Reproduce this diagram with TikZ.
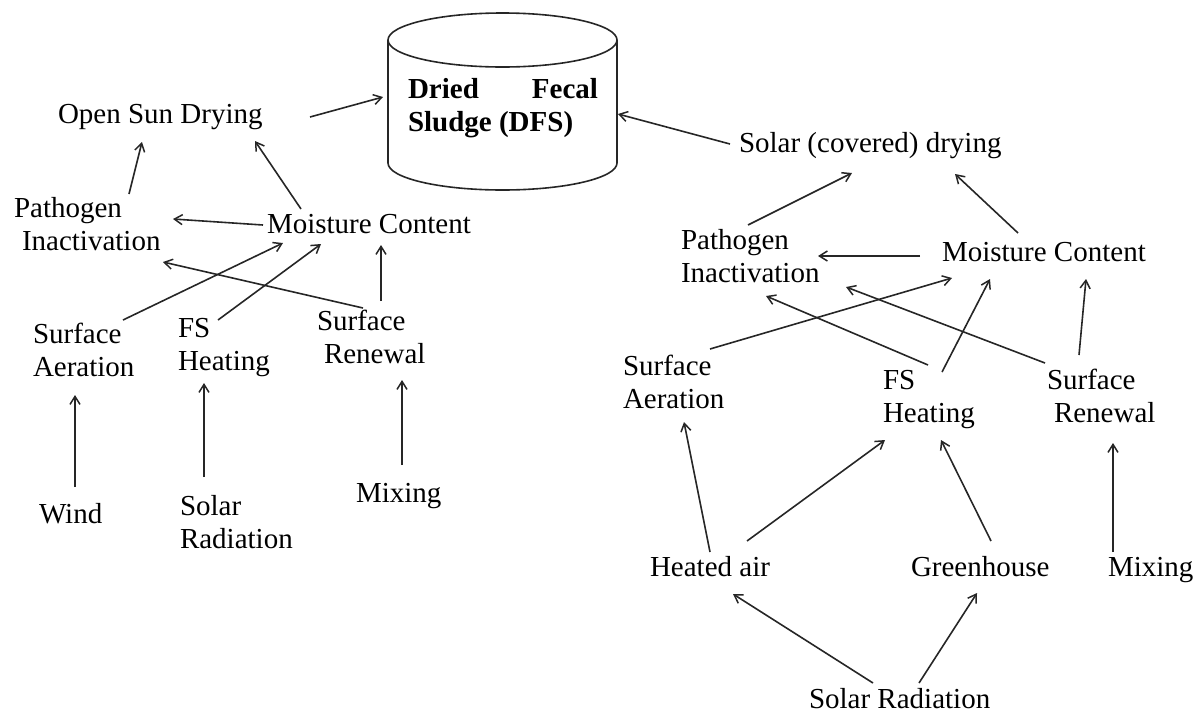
\documentclass[tikz,border=0pt]{standalone}
\usepackage{fontspec}
\setmainfont{Liberation Serif}
\usetikzlibrary{arrows.meta}
\begin{document}
\begin{tikzpicture}[x=1pt,y=-1pt,
  lbl/.style={anchor=base west, inner sep=0pt, outer sep=0pt, font=\fontsize{29pt}{33.5pt}\selectfont},
  arr/.style={draw=black!85, line width=1.6pt, -{Straight Barb[length=8pt,width=10pt,line width=1.5pt]}},
  shp/.style={draw=black!85, line width=1.6pt}]
\useasboundingbox (0,0) rectangle (1201,713);

% cylinder
\node[minimum width=229pt, minimum height=177pt, inner sep=0pt, outer sep=0pt] (dfs) at (502.5,101.5) {};
\draw[shp] (388,40) -- (388,163) arc[start angle=180,end angle=360,x radius=114.5pt,y radius=27pt] -- (617,40);
\draw[shp] (502.5,40) ellipse[x radius=114.5pt,y radius=27pt];
\node[lbl] (dfstext) at (408,98) {\parbox[t]{190pt}{\bfseries Dried\hfill Fecal\\Sludge (DFS)}};

% left side
\node[lbl] (osd) at (58,123) {Open Sun Drying};
\node[lbl] (pathL) at (14,217) {\begin{tabular}[t]{@{}l@{}}Pathogen\\\hspace*{8pt}Inactivation\end{tabular}};
\node[lbl] (mcL) at (267,233) {Moisture Content};
\node[lbl] (saL) at (33,343) {\begin{tabular}[t]{@{}l@{}}Surface\\Aeration\end{tabular}};
\node[lbl] (fsL) at (178,337) {\begin{tabular}[t]{@{}l@{}}FS\\Heating\end{tabular}};
\node[lbl] (srL) at (317,330) {\begin{tabular}[t]{@{}l@{}}Surface\\\hspace*{7pt}Renewal\end{tabular}};
\node[lbl] (wind) at (39,523) {Wind};
\node[lbl] (solL) at (180,515) {\begin{tabular}[t]{@{}l@{}}Solar\\Radiation\end{tabular}};
\node[lbl] (mixL) at (356,502) {Mixing};

% right side
\node[lbl] (scd) at (739,152) {Solar (covered) drying};
\node[lbl] (pathR) at (681,249) {\begin{tabular}[t]{@{}l@{}}Pathogen\\Inactivation\end{tabular}};
\node[lbl] (mcR) at (942,261) {Moisture Content};
\node[lbl] (saR) at (623,375) {\begin{tabular}[t]{@{}l@{}}Surface\\Aeration\end{tabular}};
\node[lbl] (fsR) at (883,389) {\begin{tabular}[t]{@{}l@{}}FS\\Heating\end{tabular}};
\node[lbl] (srR) at (1047,389) {\begin{tabular}[t]{@{}l@{}}Surface\\\hspace*{7pt}Renewal\end{tabular}};
\node[lbl] (heated) at (650,576) {Heated air};
\node[lbl] (green) at (911,576) {Greenhouse};
\node[lbl] (mixR) at (1108,576) {Mixing};
\node[lbl] (solR) at (809,708) {Solar Radiation};

% left arrows
\draw[arr] ([shift={(252,-6)}]osd.base west) -- ([shift={(-5,-4.5)}]dfs.west);
\draw[arr] ([shift={(115,-23)}]pathL.base west) -- ([shift={(84,19)}]osd.base west);
\draw[arr] ([shift={(34,-24)}]mcL.base west) -- ([shift={(197,18)}]osd.base west);
\draw[arr] ([shift={(-4,-8)}]mcL.base west) -- ([shift={(159,2)}]pathL.base west);
\draw[arr] ([shift={(90,-23)}]saL.base west) -- ([shift={(16,10)}]mcL.base west);
\draw[arr] ([shift={(40,-17)}]fsL.base west) -- ([shift={(54,11)}]mcL.base west);
\draw[arr] ([shift={(46,-22)}]srL.base west) -- ([shift={(149,45)}]pathL.base west);
\draw[arr] ([shift={(64,-29)}]srL.base west) -- ([shift={(114,12)}]mcL.base west);
\draw[arr] ([shift={(36,-36)}]wind.base west) -- ([shift={(42,52)}]saL.base west);
\draw[arr] ([shift={(24,-38)}]solL.base west) -- ([shift={(26,46)}]fsL.base west);
\draw[arr] ([shift={(46,-37)}]mixL.base west) -- ([shift={(85,50)}]srL.base west);

% right arrows
\draw[arr] ([shift={(-9,-8)}]scd.base west) -- ([shift={(1,12.5)}]dfs.east);
\draw[arr] ([shift={(67,-24)}]pathR.base west) -- ([shift={(113,21)}]scd.base west);
\draw[arr] ([shift={(76,-28)}]mcR.base west) -- ([shift={(216,22)}]scd.base west);
\draw[arr] ([shift={(-22,-5)}]mcR.base west) -- ([shift={(137,7)}]pathR.base west);
\draw[arr] ([shift={(87,-26)}]saR.base west) -- ([shift={(10,17)}]mcR.base west);
\draw[arr] ([shift={(45,-24)}]fsR.base west) -- ([shift={(85,47)}]pathR.base west);
\draw[arr] ([shift={(-2,-26)}]srR.base west) -- ([shift={(165,38)}]pathR.base west);
\draw[arr] ([shift={(59,-17)}]fsR.base west) -- ([shift={(48,18)}]mcR.base west);
\draw[arr] ([shift={(32,-34)}]srR.base west) -- ([shift={(144,18)}]mcR.base west);
\draw[arr] ([shift={(60,-24)}]heated.base west) -- ([shift={(61,47)}]saR.base west);
\draw[arr] ([shift={(97,-35)}]heated.base west) -- ([shift={(2,51)}]fsR.base west);
\draw[arr] ([shift={(80,-35)}]green.base west) -- ([shift={(58,51)}]fsR.base west);
\draw[arr] ([shift={(5,-24)}]mixR.base west) -- ([shift={(66,54)}]srR.base west);
\draw[arr] ([shift={(64,-25)}]solR.base west) -- ([shift={(83,18)}]heated.base west);
\draw[arr] ([shift={(110,-25)}]solR.base west) -- ([shift={(66,17)}]green.base west);
\end{tikzpicture}
\end{document}
